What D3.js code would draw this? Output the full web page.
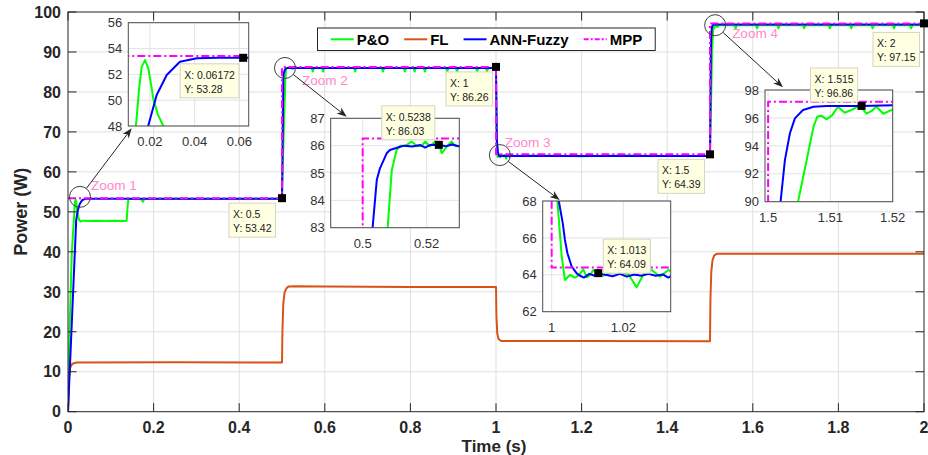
<!DOCTYPE html>
<html>
<head>
<meta charset="utf-8">
<script src="https://cdn.jsdelivr.net/npm/d3@7"></script>
<style>
  body { margin: 0; background: #fff; }
  text { font-family: "Liberation Sans", Arial, Helvetica, sans-serif; }
</style>
</head>
<body>
<div id="chart"></div>
<script>
const width = 928;
const height = 455;

const margin = { left: 68, right: 4, top: 12, bottom: 43.3 };

// series: [time (s), power (W)]
const poData = [
  [0,0],[0.004,22],[0.009,40],[0.0137,48],[0.0152,51],[0.0163,52.6],[0.0178,53.1],[0.0192,52.5],
  [0.0205,51.2],[0.0215,50.1],[0.0235,48.9],[0.026,48],[0.029,47.6],[0.035,47.8],[0.05,47.7],
  [0.07,47.8],[0.09,47.7],[0.11,47.8],[0.13,47.7],[0.137,47.8],[0.139,51],[0.141,53.2],[0.16,53.3],
  [0.172,53.1],[0.175,52.5],[0.178,53.2],[0.25,53.3],[0.33,53.2],[0.42,53.3],[0.5,53.3],
  [0.5045,72],[0.5078,83],[0.5091,85.1],[0.5106,85.84],[0.5118,86.0],[0.5135,86.0],[0.5153,86.15],
  [0.517,85.98],[0.5185,86.0],[0.5195,86.15],[0.521,85.98],[0.5227,86.15],[0.524,86.0],[0.5247,85.72],
  [0.5262,85.95],[0.5278,86.15],[0.529,85.98],[0.533,86.0],
  [0.569,86.0],[0.572,85.1],[0.575,86.0],[0.593,86.0],[0.596,85.1],[0.599,86.0],
  [0.668,86.0],[0.671,85.1],[0.674,86.0],[0.733,86.0],[0.736,85.1],[0.739,86.0],
  [0.784,86.0],[0.787,85.1],[0.79,86.0],[0.807,86.0],[0.81,85.1],[0.813,86.0],
  [0.831,86.0],[0.834,85.1],[0.837,86.0],[0.883,86.0],[0.886,85.1],[0.889,86.0],
  [0.906,86.0],[0.909,85.1],[0.912,86.0],[0.953,86.0],[0.956,85.1],[0.959,86.0],
  [0.976,86.0],[0.979,85.1],[0.982,86.0],[1.0,86.0],
  [1.0016,68],[1.0028,64.98],[1.0037,63.72],[1.0051,63.99],[1.0065,63.85],[1.0077,64.0],[1.0088,64.3],
  [1.0098,63.86],[1.0108,64.0],[1.0116,64.26],[1.013,64.05],[1.0145,63.95],[1.016,64.1],[1.019,64.17],
  [1.0215,64.0],[1.0237,63.32],[1.0255,63.99],[1.0279,64.26],[1.0302,63.9],[1.0325,64.26],[1.036,64.0],
  [1.1,64.1],[1.2,63.9],[1.3,64.1],[1.4,64.0],[1.5,64.0],
  [1.5048,90],[1.5062,93.0],[1.5073,95.4],[1.5079,96.1],[1.5086,96.15],[1.5094,95.9],[1.5103,96.2],
  [1.5112,96.8],[1.5123,96.37],[1.5135,96.6],[1.5147,96.9],[1.5158,96.3],[1.5166,96.5],[1.5174,96.8],
  [1.5185,96.3],[1.5195,96.5],[1.5205,96.7],
  [1.557,96.7],[1.56,95.9],[1.563,96.7],[1.607,96.7],[1.61,95.9],[1.613,96.7],
  [1.657,96.7],[1.66,95.9],[1.663,96.7],[1.717,96.7],[1.72,95.9],[1.723,96.7],
  [1.777,96.7],[1.78,95.9],[1.783,96.7],[1.827,96.7],[1.83,95.9],[1.833,96.7],
  [1.877,96.7],[1.88,95.9],[1.883,96.7],[1.927,96.7],[1.93,95.9],[1.933,96.7],
  [1.967,96.7],[1.97,95.9],[1.973,96.7],[2,96.7]
];

const flData = [
  [0,0],[0.002,8],[0.005,11],[0.01,12],[0.02,12.3],[0.25,12.35],[0.5,12.3],
  [0.501,20],[0.503,27],[0.506,29.8],[0.51,30.8],[0.515,31.3],[0.53,31.4],[0.6,31.3],[0.8,31.2],[1.0,31.2],
  [1.001,24],[1.003,19.5],[1.006,18.2],[1.012,17.7],[1.2,17.7],[1.5,17.6],
  [1.501,28],[1.503,35],[1.506,38],[1.51,39.1],[1.516,39.5],[1.7,39.5],[2,39.5]
];

const annData = [
  [0,0],[0.0192,48],[0.023,50.4],[0.0275,51.95],[0.0334,52.98],[0.041,53.25],[0.05,53.28],[0.06172,53.28],[0.5,53.28],
  [0.5031,83],[0.5044,84.74],[0.5054,85.17],[0.5075,85.72],[0.5085,85.84],[0.5117,85.96],[0.513,86.0],
  [0.5155,85.97],[0.518,86.02],[0.5195,85.93],[0.521,86.02],[0.5238,86.03],[0.526,85.98],[0.528,86.04],
  [0.53,85.98],[0.7,86.0],[1.0,86.0],
  [1.002,68],[1.0031,66.79],[1.0037,65.89],[1.0044,65.17],[1.0056,64.44],[1.007,64.08],[1.0079,63.95],
  [1.009,63.85],[1.0105,64.05],[1.012,63.95],[1.013,64.09],[1.015,64.0],[1.017,63.92],[1.019,64.05],
  [1.021,63.9],[1.023,64.02],[1.025,63.95],[1.027,64.05],[1.029,63.95],[1.031,64.02],[1.0325,63.85],
  [1.034,64.0],[1.5,64.0],
  [1.502,90],[1.5027,93.0],[1.5035,94.9],[1.5043,95.97],[1.5056,96.57],[1.5073,96.8],[1.5094,96.86],
  [1.515,96.86],[1.52,96.9],[2,96.9]
];

const mppData = [
  [0,53.42],[0.5,53.42],[0.5,86.26],[1,86.26],[1,64.39],[1.5,64.39],[1.5,97.15],[2,97.15]
];

const seriesNames = ["P&O", "FL", "ANN-Fuzzy", "MPP"];
const seriesColors = ["#00ff00", "#d95319", "#0000ff", "#ff00ff"];

const xTicks = [0, 0.2, 0.4, 0.6, 0.8, 1, 1.2, 1.4, 1.6, 1.8, 2];
const yTicks = [0, 10, 20, 30, 40, 50, 60, 70, 80, 90, 100];

// data tips on the main axes (MPP) and in the zoom windows (ANN-Fuzzy)
const mainTipX = [0.5, 1, 1.5, 2];
const mainTipY = [53.42, 86.26, 64.39, 97.15];
const insetTipX = [0.06172, 0.5238, 1.013, 1.515];
const insetTipY = [53.28, 86.03, 64.09, 96.86];

const insetXTicks = [[0.02, 0.04, 0.06], [0.5, 0.52], [1, 1.02], [1.5, 1.51, 1.52]];
const insetYTicks = [[48, 50, 52, 54, 56], [83, 84, 85, 86, 87], [62, 64, 66, 68], [90, 92, 94, 96, 98]];
const insetXDomain = [[0.0103, 0.0642], [0.49, 0.5302], [0.9975, 1.0332], [1.4995, 1.52]];
const insetYDomain = [[48, 56], [83, 87], [62, 68], [90, 98]];
const zoomLabels = ["Zoom 1", "Zoom 2", "Zoom 3", "Zoom 4"];

// layout of zoom windows (pixels) + circle centres (data coords)
const insetLayout = [
  { x0: 128.3, y0: 22.7, x1: 248.7, y1: 126, circ: [0.028, 53.75], lab: [11, -6.7], end: ["bl", 3.4, 2.3], tip: [-63, 6] },
  { x0: 330.7, y0: 118.3, x1: 459.3, y1: 227.7, circ: [0.507, 86.0], lab: [17, 17], end: ["tl", 16, -1.6], tip: [-57, -39] },
  { x0: 542.7, y0: 201, x1: 670.7, y1: 311.7, circ: [1.009, 64.2], lab: [5, -8], end: ["tl", 17, -1], tip: [5, -34] },
  { x0: 765, y0: 90, x1: 892.7, y1: 201.7, circ: [1.512, 96.7], lab: [17, 13], end: ["tl", 18, -2.7], tip: [-51, -38] }
];
const mainTipOff = [[-53, 5], [-50, 5], [-52, 5], [-51, 9]];

const dash = "8,3,2,3";

let svg = d3.select("#chart")
  .append("svg")
  .attr("width", width)
  .attr("height", height);

svg.append("rect").attr("width", width).attr("height", height).attr("fill", "#fff");

const x = d3.scaleLinear().domain([0, 2]).range([margin.left, width - margin.right]);
const y = d3.scaleLinear().domain([0, 100]).range([height - margin.bottom, margin.top]);

const plotL = margin.left, plotR = width - margin.right;
const plotT = margin.top, plotB = height - margin.bottom;

// grid
svg.append("g").selectAll("line").data(xTicks.slice(1, -1)).join("line")
  .attr("x1", d => x(d)).attr("x2", d => x(d))
  .attr("y1", plotT).attr("y2", plotB)
  .attr("stroke", "#dfdfdf").attr("stroke-width", 1);
svg.append("g").selectAll("line").data(yTicks.slice(1, -1)).join("line")
  .attr("y1", d => y(d)).attr("y2", d => y(d))
  .attr("x1", plotL).attr("x2", plotR)
  .attr("stroke", "#dfdfdf").attr("stroke-width", 1);

svg.append("clipPath").attr("id", "clip-main")
  .append("rect").attr("x", plotL).attr("y", plotT)
  .attr("width", plotR - plotL).attr("height", plotB - plotT);

const allSeries = [poData, flData, annData, mppData];

function drawLines(g, sx, sy, clipId, lw) {
  const line = d3.line().x(d => sx(d[0])).y(d => sy(d[1]));
  const lg = g.append("g").attr("clip-path", `url(#${clipId})`);
  allSeries.forEach((s, i) => {
    lg.append("path")
      .datum(s)
      .attr("d", line)
      .attr("fill", "none")
      .attr("stroke", seriesColors[i])
      .attr("stroke-width", lw)
      .attr("stroke-linejoin", "round")
      .attr("stroke-dasharray", i === 3 ? dash : null);
  });
}

drawLines(svg, x, y, "clip-main", 2);

// axes box + inward ticks
const axisColor = "#262626";
svg.append("rect")
  .attr("x", plotL).attr("y", plotT)
  .attr("width", plotR - plotL).attr("height", plotB - plotT)
  .attr("fill", "none").attr("stroke", axisColor).attr("stroke-width", 1);

const tl = 8.5;
const ticks = svg.append("g").attr("stroke", axisColor).attr("stroke-width", 1);
xTicks.forEach(t => {
  ticks.append("line").attr("x1", x(t)).attr("x2", x(t)).attr("y1", plotB).attr("y2", plotB - tl);
  ticks.append("line").attr("x1", x(t)).attr("x2", x(t)).attr("y1", plotT).attr("y2", plotT + tl);
});
yTicks.forEach(t => {
  ticks.append("line").attr("y1", y(t)).attr("y2", y(t)).attr("x1", plotL).attr("x2", plotL + tl);
  ticks.append("line").attr("y1", y(t)).attr("y2", y(t)).attr("x1", plotR).attr("x2", plotR - tl);
});

svg.append("g").selectAll("text").data(xTicks).join("text")
  .attr("x", d => x(d)).attr("y", 432.5)
  .attr("text-anchor", "middle")
  .attr("font-size", 16).attr("font-weight", "bold").attr("fill", axisColor)
  .text(d => String(d));

svg.append("g").selectAll("text").data(yTicks).join("text")
  .attr("x", plotL - 7).attr("y", d => y(d)).attr("dy", "0.36em")
  .attr("text-anchor", "end")
  .attr("font-size", 16).attr("font-weight", "bold").attr("fill", axisColor)
  .text(d => String(d));

svg.append("text")
  .attr("x", (plotL + plotR) / 2 - 2).attr("y", 451.5)
  .attr("text-anchor", "middle")
  .attr("font-size", 17).attr("font-weight", "bold").attr("fill", axisColor)
  .text("Time (s)");

svg.append("text")
  .attr("transform", `translate(27,${(plotT + plotB) / 2}) rotate(-90)`)
  .attr("text-anchor", "middle")
  .attr("font-size", 18).attr("font-weight", "bold").attr("fill", axisColor)
  .text("Power (W)");

// legend
const leg = svg.append("g");
const legBox = leg.append("rect")
  .attr("y", 28).attr("height", 22.5)
  .attr("fill", "#fff").attr("stroke", axisColor).attr("stroke-width", 1);
let lx = 330.7;
const legStart = 317.5;
seriesNames.forEach((name, i) => {
  leg.append("line")
    .attr("x1", lx).attr("x2", lx + 23).attr("y1", 39.3).attr("y2", 39.3)
    .attr("stroke", seriesColors[i]).attr("stroke-width", 2)
    .attr("stroke-dasharray", i === 3 ? "5,2,2,2" : null);
  const t = leg.append("text")
    .attr("x", lx + 26).attr("y", 44.6)
    .attr("font-size", 15).attr("font-weight", "bold").attr("fill", "#000")
    .text(name);
  lx = lx + 26 + t.node().getComputedTextLength() + 15;
});
legBox.attr("x", legStart).attr("width", lx - 15 + 13 - legStart);

// circles, labels, arrows
insetLayout.forEach((L, i) => {
  const cx = x(L.circ[0]), cy = y(L.circ[1]);
  const r = 10.5;
  svg.append("circle").attr("cx", cx).attr("cy", cy).attr("r", r)
    .attr("fill", "none").attr("stroke", "#404040").attr("stroke-width", 1);
  svg.append("text")
    .attr("x", cx + L.lab[0]).attr("y", cy + L.lab[1])
    .attr("font-size", 13.5).attr("fill", "#ff88cc")
    .text(zoomLabels[i]);

  const ex = L.x0 + L.end[1];
  const ey = (L.end[0] === "bl" ? L.y1 : L.y0) + L.end[2];
  const dx = ex - cx, dy = ey - cy;
  const len = Math.hypot(dx, dy);
  const ux = dx / len, uy = dy / len;
  const sx = cx + ux * r, sy = cy + uy * r;
  const hl = 10, hw = 3.8;
  const bx = ex - ux * hl, by = ey - uy * hl;
  svg.append("line")
    .attr("x1", sx).attr("y1", sy).attr("x2", ex - ux * 6).attr("y2", ey - uy * 6)
    .attr("stroke", axisColor).attr("stroke-width", 1);
  svg.append("path")
    .attr("d", `M${ex},${ey} L${bx - uy * hw},${by + ux * hw} L${ex - ux * 7},${ey - uy * 7} L${bx + uy * hw},${by - ux * hw} Z`)
    .attr("fill", axisColor);
});

// zoom windows
const insetGroups = [];
insetLayout.forEach((L, i) => {
  const g = svg.append("g");
  const ix = d3.scaleLinear().domain(insetXDomain[i]).range([L.x0, L.x1]);
  const iy = d3.scaleLinear().domain(insetYDomain[i]).range([L.y1, L.y0]);
  g.append("rect")
    .attr("x", L.x0).attr("y", L.y0).attr("width", L.x1 - L.x0).attr("height", L.y1 - L.y0)
    .attr("fill", "#fff");
  g.append("clipPath").attr("id", "clip-in" + i)
    .append("rect").attr("x", L.x0).attr("y", L.y0)
    .attr("width", L.x1 - L.x0).attr("height", L.y1 - L.y0);

  g.append("g").selectAll("line").data(insetXTicks[i]).join("line")
    .attr("x1", d => ix(d)).attr("x2", d => ix(d)).attr("y1", L.y0).attr("y2", L.y1)
    .attr("stroke", "#e3e3e3");
  g.append("g").selectAll("line").data(insetYTicks[i]).join("line")
    .attr("y1", d => iy(d)).attr("y2", d => iy(d)).attr("x1", L.x0).attr("x2", L.x1)
    .attr("stroke", "#e3e3e3");

  drawLines(g, ix, iy, "clip-in" + i, 2);

  g.append("rect")
    .attr("x", L.x0).attr("y", L.y0).attr("width", L.x1 - L.x0).attr("height", L.y1 - L.y0)
    .attr("fill", "none").attr("stroke", "#4d4d4d").attr("stroke-width", 1);

  g.append("g").selectAll("text").data(insetXTicks[i]).join("text")
    .attr("x", d => ix(d)).attr("y", L.y1 + 20)
    .attr("text-anchor", "middle").attr("font-size", 13).attr("fill", "#333")
    .text(d => String(d));
  g.append("g").selectAll("text").data(insetYTicks[i]).join("text")
    .attr("x", L.x0 - 6).attr("y", d => iy(d)).attr("dy", "0.36em")
    .attr("text-anchor", "end").attr("font-size", 13).attr("fill", "#333")
    .text(d => String(d));

  insetGroups.push({ ix, iy });
});

// data tips
function dataTip(mx, my, tx, ty, off) {
  svg.append("rect")
    .attr("x", mx - 4).attr("y", my - 4).attr("width", 8).attr("height", 8)
    .attr("fill", "#000");
  const g = svg.append("g");
  const box = g.append("rect")
    .attr("x", mx + off[0]).attr("y", my + off[1]).attr("height", 34)
    .attr("fill", "#ffffe1").attr("stroke", "#d4d4c4").attr("stroke-width", 1);
  const t1 = g.append("text").attr("x", mx + off[0] + 4).attr("y", my + off[1] + 15)
    .attr("font-size", 10.5).attr("fill", "#1a1a1a").text("X: " + tx);
  const t2 = g.append("text").attr("x", mx + off[0] + 4).attr("y", my + off[1] + 29)
    .attr("font-size", 10.5).attr("fill", "#1a1a1a").text("Y: " + ty);
  const w = Math.max(t1.node().getComputedTextLength(), t2.node().getComputedTextLength());
  box.attr("width", w + 8);
}

mainTipX.forEach((t, i) => dataTip(x(t), y(mainTipY[i]), String(t), String(mainTipY[i]), mainTipOff[i]));
insetTipX.forEach((t, i) => {
  const { ix, iy } = insetGroups[i];
  dataTip(ix(t), iy(insetTipY[i]), String(t), String(insetTipY[i]), insetLayout[i].tip);
});
</script>
</body>
</html>
